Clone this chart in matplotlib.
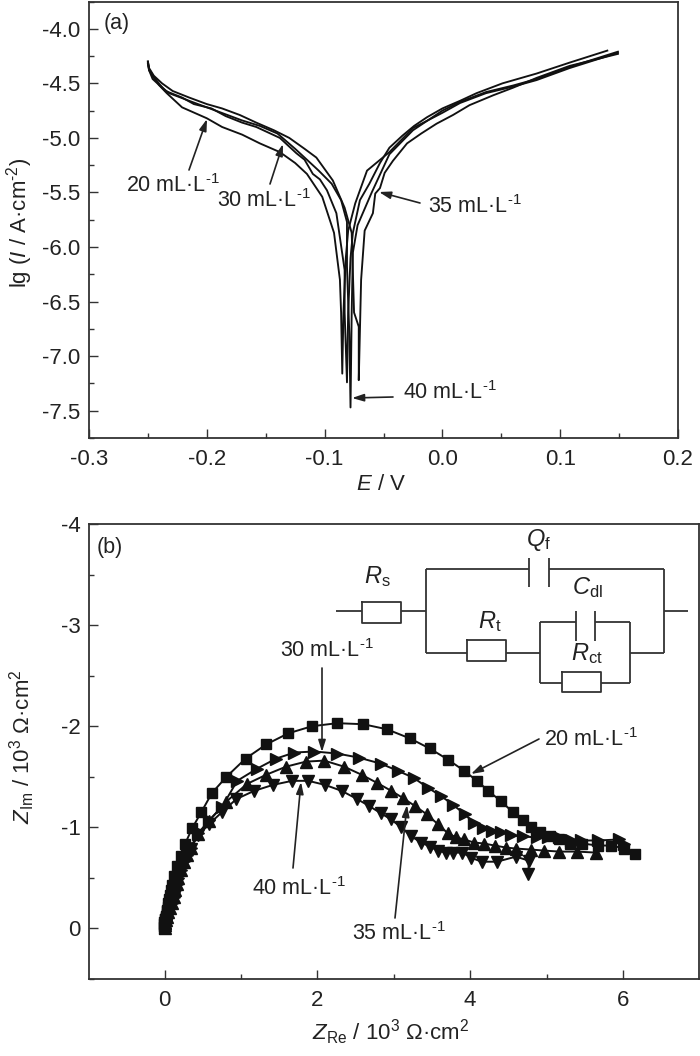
import numpy as np
import matplotlib
matplotlib.use("Agg")
import matplotlib.pyplot as plt
from matplotlib.ticker import MultipleLocator, FormatStrFormatter

plt.rcParams['font.family'] = ['Liberation Sans', 'DejaVu Sans']
plt.rcParams['mathtext.fontset'] = 'custom'
plt.rcParams['mathtext.rm'] = 'Liberation Sans'
plt.rcParams['mathtext.it'] = 'Liberation Sans:italic'
plt.rcParams['mathtext.default'] = 'regular'
plt.rcParams['axes.unicode_minus'] = False

INK = '#222222'

# -----------------------------
# (a) polarization curves, E in V and lg(I)
# -----------------------------
E_20 = [-0.25, -0.249, -0.246, -0.242, -0.234, -0.221, -0.2, -0.187, -0.17, -0.155, -0.138, -0.125, -0.115, -0.102,
        -0.092, -0.087, -0.086, -0.085,
        -0.084, -0.082, -0.08, -0.074, -0.064, -0.045, -0.025, 0.0, 0.015, 0.037, 0.06, 0.08, 0.108, 0.149]
lg_20 = [-4.31, -4.38, -4.46, -4.5, -4.59, -4.72, -4.82, -4.9, -4.97, -5.05, -5.13, -5.23, -5.33, -5.54,
         -5.87, -6.3, -6.6, -7.16,
         -6.6, -6.1, -5.85, -5.6, -5.3, -5.13, -4.91, -4.77, -4.68, -4.59, -4.53, -4.47, -4.36, -4.22]

E_30 = [-0.25, -0.249, -0.245, -0.24, -0.235, -0.221, -0.211, -0.196, -0.184, -0.17, -0.158, -0.146, -0.138, -0.124,
        -0.117, -0.11, -0.104, -0.098, -0.09, -0.083, -0.083, -0.081,
        -0.08, -0.078, -0.076, -0.07, -0.062, -0.053, -0.045, -0.034, -0.024, -0.013, 0.0, 0.015, 0.029, 0.051,
        0.08, 0.108, 0.14]
lg_30 = [-4.3, -4.37, -4.44, -4.51, -4.57, -4.63, -4.69, -4.73, -4.8, -4.86, -4.9, -4.96, -5.0, -5.14,
         -5.2, -5.33, -5.38, -5.48, -5.69, -6.21, -6.6, -7.24,
         -6.6, -6.1, -5.87, -5.57, -5.42, -5.23, -5.09, -4.98, -4.89, -4.81, -4.73, -4.66, -4.59, -4.5,
         -4.41, -4.31, -4.2]

E_35 = [-0.25, -0.249, -0.245, -0.238, -0.229, -0.215, -0.2, -0.187, -0.172, -0.158, -0.143, -0.13, -0.117, -0.107,
        -0.093, -0.083, -0.077, -0.075, -0.071, -0.071,
        -0.069, -0.066, -0.059, -0.057, -0.053, -0.049, -0.042, -0.036, -0.03, -0.018, -0.005, 0.009, 0.023, 0.043,
        0.06, 0.08, 0.108, 0.149]
lg_35 = [-4.3, -4.36, -4.43, -4.5, -4.57, -4.63, -4.69, -4.73, -4.79, -4.86, -4.93, -5.0, -5.1, -5.18,
         -5.39, -5.64, -5.87, -6.6, -6.73, -7.22,
         -6.3, -5.85, -5.69, -5.51, -5.46, -5.32, -5.21, -5.13, -5.05, -4.96, -4.87, -4.79, -4.7, -4.61,
         -4.54, -4.45, -4.34, -4.23]

E_40 = [-0.25, -0.249, -0.245, -0.24, -0.232, -0.215, -0.2, -0.185, -0.17, -0.155, -0.14, -0.125, -0.115, -0.105,
        -0.094, -0.086, -0.081, -0.081, -0.079, -0.078,
        -0.077, -0.076, -0.072, -0.06, -0.045, -0.025, 0.0, 0.015, 0.037, 0.06, 0.08, 0.108, 0.149]
lg_40 = [-4.32, -4.38, -4.45, -4.52, -4.59, -4.66, -4.72, -4.78, -4.84, -4.89, -4.96, -5.1, -5.2, -5.3,
         -5.42, -5.57, -5.77, -6.18, -6.8, -7.47,
         -6.6, -6.05, -5.8, -5.5, -5.15, -4.93, -4.75, -4.67, -4.58, -4.52, -4.46, -4.35, -4.21]

# -----------------------------
# (b) impedance spectra, 10^3 ohm cm2
# -----------------------------
re_20 = [0.0, 0.0, 0.0, 0.01, 0.01, 0.02, 0.03, 0.03, 0.04, 0.05, 0.06, 0.07, 0.08, 0.1, 0.12, 0.16, 0.22, 0.27, 0.36,
         0.48, 0.62, 0.81, 1.06, 1.33, 1.62, 1.93, 2.26, 2.6, 2.91, 3.21, 3.47, 3.71, 3.92, 4.09, 4.24, 4.4, 4.56,
         4.69, 4.8, 4.92, 5.05, 5.17, 5.31, 5.47, 5.67, 5.85, 6.02, 6.16]
im_20 = [0.0, -0.02, -0.04, -0.06, -0.09, -0.11, -0.14, -0.18, -0.21, -0.25, -0.29, -0.33, -0.38, -0.43, -0.52, -0.62,
         -0.72, -0.84, -0.99, -1.15, -1.34, -1.5, -1.68, -1.82, -1.93, -2.0, -2.03, -2.02, -1.97, -1.88, -1.78,
         -1.67, -1.56, -1.46, -1.36, -1.26, -1.15, -1.07, -1.0, -0.95, -0.91, -0.88, -0.84, -0.84, -0.82, -0.82,
         -0.79, -0.74]

re_30 = [0.0, 0.0, 0.01, 0.02, 0.03, 0.05, 0.07, 0.1, 0.12, 0.14, 0.16, 0.18, 0.21, 0.25, 0.29, 0.34, 0.44, 0.58, 0.75,
         0.95, 1.21, 1.46, 1.7, 1.96, 2.26, 2.54, 2.83, 3.05, 3.26, 3.45, 3.62, 3.78, 3.93, 4.05, 4.17, 4.28, 4.41,
         4.54, 4.69, 4.87, 5.02, 5.17, 5.32, 5.45, 5.67, 5.95, 6.02]
im_30 = [0.0, -0.03, -0.05, -0.08, -0.11, -0.16, -0.2, -0.25, -0.31, -0.38, -0.44, -0.5, -0.58, -0.67, -0.73, -0.8,
         -0.94, -1.07, -1.2, -1.46, -1.58, -1.68, -1.74, -1.75, -1.73, -1.69, -1.63, -1.56, -1.49, -1.39, -1.31,
         -1.22, -1.13, -1.04, -0.99, -0.96, -0.95, -0.92, -0.91, -0.9, -0.9, -0.9, -0.87, -0.87, -0.87, -0.88, -0.84]

re_35 = [0.0, 0.0, 0.01, 0.02, 0.03, 0.05, 0.07, 0.1, 0.12, 0.14, 0.16, 0.18, 0.21, 0.25, 0.29, 0.34, 0.44, 0.58, 0.8,
         1.08, 1.33, 1.59, 1.85, 2.09, 2.35, 2.58, 2.78, 2.97, 3.12, 3.28, 3.43, 3.58, 3.71, 3.82, 3.92, 4.05, 4.18,
         4.32, 4.47, 4.6, 4.8, 4.97, 5.17, 5.4, 5.65]
im_35 = [0.0, -0.03, -0.05, -0.08, -0.11, -0.16, -0.2, -0.25, -0.31, -0.38, -0.44, -0.5, -0.58, -0.66, -0.73, -0.8,
         -0.93, -1.06, -1.25, -1.43, -1.52, -1.6, -1.65, -1.66, -1.6, -1.52, -1.44, -1.36, -1.29, -1.21, -1.13,
         -1.03, -0.94, -0.9, -0.88, -0.85, -0.84, -0.82, -0.8, -0.79, -0.78, -0.77, -0.76, -0.76, -0.75]

re_40 = [0.0, 0.0, 0.01, 0.02, 0.03, 0.05, 0.07, 0.1, 0.12, 0.14, 0.16, 0.18, 0.21, 0.25, 0.29, 0.34, 0.44, 0.58, 0.75,
         0.94, 1.17, 1.42, 1.67, 1.88, 2.1, 2.32, 2.52, 2.68, 2.83, 2.96, 3.1, 3.23, 3.36, 3.47, 3.58, 3.68, 3.78,
         3.9, 4.01, 4.15, 4.35, 4.6, 4.77, 4.76]
im_40 = [0.0, -0.03, -0.05, -0.08, -0.11, -0.16, -0.2, -0.25, -0.31, -0.38, -0.44, -0.5, -0.57, -0.65, -0.72, -0.79,
         -0.92, -1.03, -1.15, -1.28, -1.36, -1.42, -1.46, -1.46, -1.42, -1.36, -1.28, -1.21, -1.14, -1.08, -1.0,
         -0.91, -0.85, -0.81, -0.77, -0.75, -0.75, -0.75, -0.7, -0.66, -0.66, -0.71, -0.67, -0.54]

W, H = 700, 1056
fig = plt.figure(figsize=(W / 100, H / 100), dpi=100)


def make_axes(x0, y0, x1, y1):
    # pixel box of the frame, y counted from the top
    ax = fig.add_axes([x0 / W, 1 - y1 / H, (x1 - x0) / W, (y1 - y0) / H])
    for s in ax.spines.values():
        s.set_linewidth(1.3)
        s.set_color('#333333')
    ax.tick_params(which='major', direction='in', length=6.5, width=1.0, labelsize=16, color='#333333',
                   labelcolor=INK)
    ax.tick_params(which='minor', direction='in', length=3.5, width=1.0, color='#333333')
    ax.tick_params(axis='x', which='major', pad=8)
    ax.tick_params(axis='y', which='major', pad=6)
    return ax


# -----------------------------
# Panel (a)
# -----------------------------
ax1 = make_axes(89, 1.5, 678, 438)
for e, lg in [(E_20, lg_20), (E_30, lg_30), (E_35, lg_35), (E_40, lg_40)]:
    ax1.plot(e, lg, color='#111111', lw=1.35)
ax1.set_xlim(-0.3, 0.2)
ax1.set_ylim(-7.75, -3.75)
ax1.xaxis.set_major_locator(MultipleLocator(0.1))
ax1.xaxis.set_minor_locator(MultipleLocator(0.05))
ax1.yaxis.set_major_locator(MultipleLocator(0.5))
ax1.yaxis.set_minor_locator(MultipleLocator(0.25))
ax1.xaxis.set_major_formatter(FormatStrFormatter('%.1f'))
ax1.yaxis.set_major_formatter(FormatStrFormatter('%.1f'))

# -----------------------------
# Panel (b)
# -----------------------------
ax2 = make_axes(89, 524, 698.5, 979)
ax2.plot(re_20, im_20, '-s', color='#111111', lw=1.4, ms=7.2)
ax2.plot(re_30, im_30, '->', color='#111111', lw=1.4, ms=8.5)
ax2.plot(re_35, im_35, '-^', color='#111111', lw=1.4, ms=8.5)
ax2.plot(re_40, im_40, '-v', color='#111111', lw=1.4, ms=8.5)
ax2.set_xlim(-0.99, 6.99)
ax2.set_ylim(0.5, -4)
ax2.xaxis.set_major_locator(MultipleLocator(2))
ax2.xaxis.set_minor_locator(MultipleLocator(1))
ax2.yaxis.set_major_locator(MultipleLocator(1))
ax2.yaxis.set_minor_locator(MultipleLocator(0.5))

# -----------------------------
# Overlay in pixels for labels, arrows and the circuit
# -----------------------------
ov = fig.add_axes([0, 0, 1, 1], facecolor='none')
ov.set_xlim(0, W)
ov.set_ylim(H, 0)
ov.axis('off')


def label(x, y, s, size=15.5, **kw):
    kw.setdefault('ha', 'left')
    ov.text(x, y, s, fontsize=size, color=INK, va='center', **kw)


def arrow(tail, head):
    ov.annotate('', xy=head, xytext=tail,
                arrowprops=dict(arrowstyle='-|>,head_length=0.7,head_width=0.22', color=INK, lw=1.2,
                                shrinkA=0, shrinkB=0))


conc = ' mL·L$^{\u20101}$'
label(104, 24, '(a)', 15.5)
label(97, 548, '(b)', 15.5)
label(126, 186, '20' + conc)
label(217, 201, '30' + conc)
label(428, 207, '35' + conc)
label(403, 393, '40' + conc)
label(280, 651, '30' + conc)
label(252, 889, '40' + conc)
label(352, 934, '35' + conc)
label(544, 740, '20' + conc)

arrow((189, 170), (207, 119))
arrow((270, 184), (283, 144))
arrow((420, 203), (379, 192))
arrow((393, 397), (352, 398))
arrow((322, 668), (322, 752))
arrow((293, 868), (301, 782))
arrow((395, 918), (407, 805))
arrow((539, 739), (471, 774))

label(381, 484, '$\\mathit{E}$ / V', 16, ha='center')
label(391, 1032, '$\\mathit{Z}_{Re}$ / 10$^{3}$ Ω·cm$^{2}$', 16, ha='center')
label(20, 223, 'lg ($\\mathit{I}$ / A·cm$^{\u20102}$)', 16, ha='center', rotation=90)
label(22, 747, '$\\mathit{Z}_{Im}$ / 10$^{3}$ Ω·cm$^{2}$', 16, ha='center', rotation=90)

# circuit wires
wires = [
    ((336, 362), (611, 611)),
    ((401, 426), (611, 611)),
    ((426, 426), (569, 653)),
    ((426, 529), (569, 569)),
    ((549, 664), (569, 569)),
    ((664, 664), (569, 653)),
    ((664, 688), (611, 611)),
    ((426, 467), (653, 653)),
    ((506, 540), (653, 653)),
    ((540, 540), (622, 683)),
    ((540, 576), (622, 622)),
    ((595, 630), (622, 622)),
    ((630, 630), (622, 683)),
    ((540, 562), (683, 683)),
    ((601, 630), (683, 683)),
    ((630, 664), (653, 653)),
    ((529, 529), (558, 587)),
    ((549, 549), (558, 587)),
    ((576, 576), (611, 641)),
    ((595, 595), (611, 641)),
]
for xs, ys in wires:
    ov.plot(xs, ys, color='#333333', lw=1.3, solid_capstyle='butt')
for x0, y0, x1, y1 in [(362, 602, 401, 623), (467, 640, 506, 661), (562, 672, 601, 692)]:
    ov.plot([x0, x1, x1, x0, x0], [y0, y0, y1, y1, y0], color='#333333', lw=1.3)

label(539, 540, '$\\mathit{Q}_{f}$', 17, ha='center')
label(377, 577, '$\\mathit{R}_{s}$', 17, ha='center')
label(587, 588, '$\\mathit{C}_{dl}$', 17, ha='center')
label(490, 622, '$\\mathit{R}_{t}$', 17, ha='center')
label(587, 654, '$\\mathit{R}_{ct}$', 17, ha='center')

fig.savefig('out.png', dpi=100)
